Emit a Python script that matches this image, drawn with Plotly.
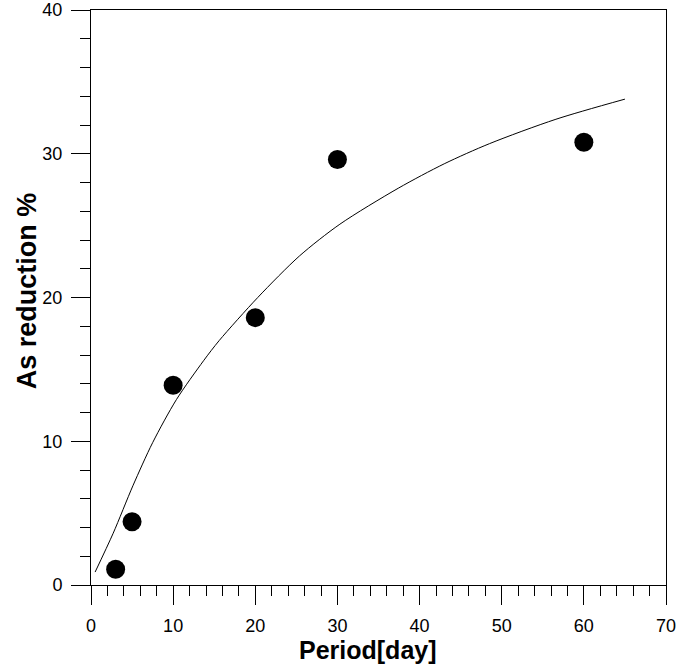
import plotly.graph_objects as go

# Measured data points
period_days = [3, 5, 10, 20, 30, 60]
as_reduction = [1.1, 4.4, 13.9, 18.6, 29.6, 30.8]

# Fitted curve
curve_x = [0.5, 2.7, 5.1, 7.5, 10.4, 13.7, 15.6, 20.3, 25.4, 30.3, 37.4, 43.0, 48.5, 56.6, 65]
curve_y = [0.9, 3.6, 6.9, 9.9, 12.9, 15.6, 17.0, 20.0, 22.9, 25.1, 27.6, 29.3, 30.7, 32.4, 33.8]

x_ticks = [0, 10, 20, 30, 40, 50, 60, 70]
y_ticks = [0, 10, 20, 30, 40]

fig = go.Figure()
fig.add_trace(go.Scatter(x=curve_x, y=curve_y, mode="lines",
                         line=dict(color="black", width=1, shape="spline", smoothing=0.8),
                         showlegend=False, hoverinfo="skip"))
fig.add_trace(go.Scatter(x=period_days, y=as_reduction, mode="markers",
                         marker=dict(color="black", size=19, line=dict(width=0)),
                         showlegend=False))

axis_common = dict(
    showgrid=False, zeroline=False, showline=True, linecolor="black", linewidth=1,
    mirror=True, ticks="outside", ticklen=19, tickwidth=1, tickcolor="black",
    automargin=False,
    tickfont=dict(family="Liberation Sans, Arial, sans-serif", size=18, color="black"),
    minor=dict(ticks="outside", ticklen=10, tickwidth=1, tickcolor="black", dtick=2),
)

fig.update_layout(
    width=677, height=665,
    margin=dict(l=91, r=11, t=10, b=80, autoexpand=False),
    paper_bgcolor="white", plot_bgcolor="white",
    xaxis=dict(range=[0, 70], tickvals=x_ticks, ticklabelstandoff=5, **axis_common),
    yaxis=dict(range=[0, 40], tickvals=y_ticks, ticklabelstandoff=5, **axis_common),
    annotations=[
        dict(text="<b>Period[day]</b>", x=0.4817, y=0, yshift=-65, xref="paper", yref="paper",
             xanchor="center", yanchor="middle", showarrow=False,
             font=dict(family="Liberation Sans, Arial, sans-serif", size=25, color="black")),
        dict(text="<b>As reduction %</b>", x=0, xshift=-64, y=0.511, xref="paper", yref="paper",
             xanchor="center", yanchor="middle", showarrow=False, textangle=-90,
             font=dict(family="Liberation Sans, Arial, sans-serif", size=27, color="black")),
    ],
)

fig.write_html("out.html", config={"displayModeBar": False},
               post_script="document.body.style.margin='0';document.body.style.padding='0';")
